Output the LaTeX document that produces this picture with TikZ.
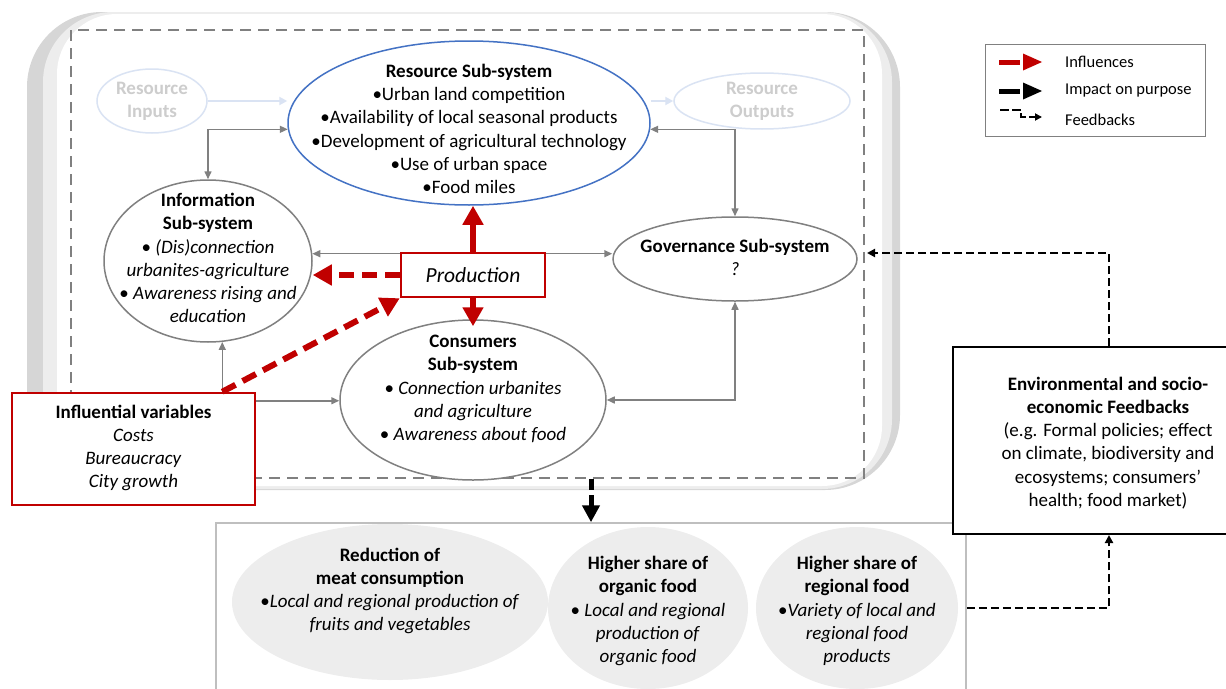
\documentclass[tikz,border=0pt]{standalone}
\usepackage{fontspec}
\setmainfont{Carlito}
\usetikzlibrary{arrows.meta,shapes.geometric,calc}
\definecolor{darkred}{HTML}{C00000}
\definecolor{resblue}{HTML}{4472C4}
\definecolor{midgray}{HTML}{808080}
\definecolor{palegray}{HTML}{CDCDCD}
\definecolor{paleblue}{HTML}{DAE3F3}
\definecolor{bandgray}{HTML}{D6D6D6}
\definecolor{bandlight}{HTML}{EDEDED}
\definecolor{blobgray}{HTML}{EDEDED}
\definecolor{outgray}{HTML}{BFBFBF}
\newcommand\mainsize{\fontsize{19}{23.2}\selectfont}
\newcommand\prodsize{\fontsize{21.5}{26}\selectfont}
\newcommand\legsize{\fontsize{16.5}{19}\selectfont}
\begin{document}
\begin{tikzpicture}[x=1pt,y=-1pt,
  txt/.style={align=center, font=\mainsize, inner sep=0pt},
  legtxt/.style={anchor=west, font=\legsize, inner sep=0pt},
  subell/.style={ellipse, draw=midgray, line width=1.5pt, fill=white, inner sep=0pt},
  paleell/.style={ellipse, draw=paleblue, line width=1.5pt, inner sep=0pt},
  blob/.style={ellipse, fill=blobgray, inner sep=0pt},
  redbox/.style={draw=darkred, line width=2.5pt, fill=white, inner sep=0pt},
  conn/.style={draw=midgray, line width=1.5pt, {Triangle[length=8pt,width=7pt]}-{Triangle[length=8pt,width=7pt]}},
  connto/.style={draw=midgray, line width=1.5pt, -{Triangle[length=8pt,width=7pt]}},
  paleconn/.style={draw=paleblue, line width=2pt, -{Triangle[length=8pt,width=8pt]}},
  influence/.style={draw=darkred, line width=6pt, -{Triangle[length=19pt,width=20pt]}},
  influencedash/.style={influence, dash pattern=on 15pt off 8pt},
  impact/.style={draw=black, line width=5pt, dash pattern=on 11pt off 5pt, -{Triangle[length=17pt,width=17pt]}},
  feedback/.style={draw=black, line width=2.5pt, dash pattern=on 8pt off 4pt, -{Triangle[length=8pt,width=8pt]}}]

\useasboundingbox (0,0) rectangle (1226,688);
\clip (0,0) rectangle (1226,688);

% rounded grey frame around the food system (shaded sides)
\fill[bandgray, rounded corners=75pt] (27,12) rectangle (900,490);
\fill[bandlight, rounded corners=70pt] (43,12) rectangle (892,489);
\fill[white, rounded corners=60pt] (57,14) rectangle (882,486);

% dashed system boundary
\node[draw=midgray, line width=2pt, dash pattern=on 11pt off 7pt,
      minimum width=793pt, minimum height=448pt, inner sep=0pt] (sys) at (467.5,254) {};

% legend
\node[draw=midgray, line width=1pt, minimum width=220pt, minimum height=92pt, inner sep=0pt] (legend) at (1095,90) {};
\fill[darkred] (999,59.5) rectangle (1020,64.5);
\fill[darkred] (1023,53.5) -- (1042,62) -- (1023,70.5) -- cycle;
\fill[black] (999,88.5) rectangle (1020,93.5);
\fill[black] (1023,82.5) -- (1042,91) -- (1023,99.5) -- cycle;
\draw[draw=black, line width=1.8pt, dash pattern=on 9pt off 3pt, -{Triangle[length=7pt,width=7pt]}]
  (1000,110) -- (1021,110) -- (1021,117) -- (1042,117);
\node[legtxt] (leg1) at (1065,62) {Influences};
\node[legtxt] (leg2) at (1065,91) {Impact on purpose};
\node[legtxt] (leg3) at (1065,120) {Feedbacks};

% resource inputs / outputs
\node[paleell, minimum width=110pt, minimum height=64pt] (rin) at (152,101) {};
\node[txt, text=palegray, font=\mainsize\bfseries] (rintxt) at (152,101) {Resource\\Inputs};
\node[paleell, minimum width=176pt, minimum height=56pt] (rout) at (762,101) {};
\node[txt, text=palegray, font=\mainsize\bfseries] (routtxt) at (762,101) {Resource\\Outputs};

% sub-systems
\node[subell, draw=resblue, minimum width=362pt, minimum height=164pt] (res) at (469,123) {};
\node[txt] (restxt) at (469,129) {\textbf{Resource Sub-system}\\
  •Urban land competition\\
  •Availability of local seasonal products\\
  •Development of agricultural technology\\
  •Use of urban space\\
  •Food miles};

\node[subell, minimum width=208pt, minimum height=162pt] (info) at (208,261) {};
\node[txt] (infotxt) at (208,258) {\textbf{Information}\\
  \textbf{Sub-system}\\
  • \textit{(Dis)connection}\\
  \textit{urbanites-agriculture}\\
  • \textit{Awareness rising and}\\
  \textit{education}};

\node[subell, minimum width=244pt, minimum height=84pt] (gov) at (735,259) {};
\node[txt] (govtxt) at (735,257) {\textbf{Governance Sub-system}\\ \textit{?}};

\node[subell, minimum width=266pt, minimum height=160pt] (cons) at (473,400) {};
\node[txt] (constxt) at (473,389) {\textbf{Consumers}\\
  \textbf{Sub-system}\\
  • \textit{Connection urbanites}\\
  \textit{and agriculture}\\
  • \textit{Awareness about food}};

% pale resource flow
\draw[paleconn] (rin.east) -- (rin.east -| res.west);
\draw[paleconn] (res.east |- rout.west) -- (rout.west);

% grey interactions between sub-systems
\draw[conn] (res.182) -| (info.north);
\draw[conn] (res.-2) -| (gov.north);
\draw[conn] (info.4) -- (info.4 -| gov.west);
\draw[conn] (cons.east) -| (gov.south);

% influential variables
\node[redbox, minimum width=243pt, minimum height=112pt] (infl) at (133.5,449) {};
\node[txt] (infltxt) at (133.5,448) {\textbf{Influential variables}\\
  \textit{Costs}\\
  \textit{Bureaucracy}\\
  \textit{City growth}};
\draw[connto] (info.280 |- infl.north) -- (info.280);
\draw[connto] ([yshift=-9pt]infl.north east) -- ([yshift=-9pt]infl.north east -| cons.west);

% production and its influences
\node[redbox, minimum width=144pt, minimum height=44pt, font=\prodsize] (prod) at (473,275) {\textit{Production}};
\draw[influence] (prod.north) -- (prod.north |- res.south);
\draw[influence] (prod.south) -- ++(0,28);
\draw[influencedash] (prod.west) -- (prod.west -| info.east);
\draw[influencedash] (info.280 |- infl.north) -- (prod.south west);

% outcomes
\node[draw=outgray, line width=1.5pt, minimum width=750pt, minimum height=170pt, inner sep=0pt] (out) at (591,608) {};
\node[blob, minimum width=316pt, minimum height=156pt] (b1) at (390,602) {};
\node[blob, minimum width=200pt, minimum height=162pt] (b2) at (648,608) {};
\node[blob, minimum width=202pt, minimum height=162pt] (b3) at (857,608) {};
\node[txt] (b1txt) at (390,591) {\textbf{Reduction of}\\
  \textbf{meat consumption}\\
  •\textit{Local and regional production of}\\
  \textit{fruits and vegetables}};
\node[txt] (b2txt) at (648,611) {\textbf{Higher share of}\\
  \textbf{organic food}\\
  • \textit{Local and regional}\\
  \textit{production of}\\
  \textit{organic food}};
\node[txt] (b3txt) at (857,611) {\textbf{Higher share of}\\
  \textbf{regional food}\\
  •\textit{Variety of local and}\\
  \textit{regional food}\\
  \textit{products}};
\draw[impact] (out.north |- sys.south) -- (out.north);

% environmental and socio-economic feedbacks
\node[draw=black, line width=2pt, fill=white, minimum width=312pt, minimum height=187pt, inner sep=0pt] (env) at (1109,440.5) {};
\node[txt] (envtxt) at (1108,443) {\textbf{Environmental and socio-}\\
  \textbf{economic Feedbacks}\\
  (e.g. Formal policies; effect\\
  on climate, biodiversity and\\
  ecosystems; consumers’\\
  health; food market)};
\draw[feedback] (out.east) -| (env.south);
\draw[feedback] (env.north) |- ([xshift=2pt,yshift=6pt]sys.east |- gov.east);

\end{tikzpicture}
\end{document}
